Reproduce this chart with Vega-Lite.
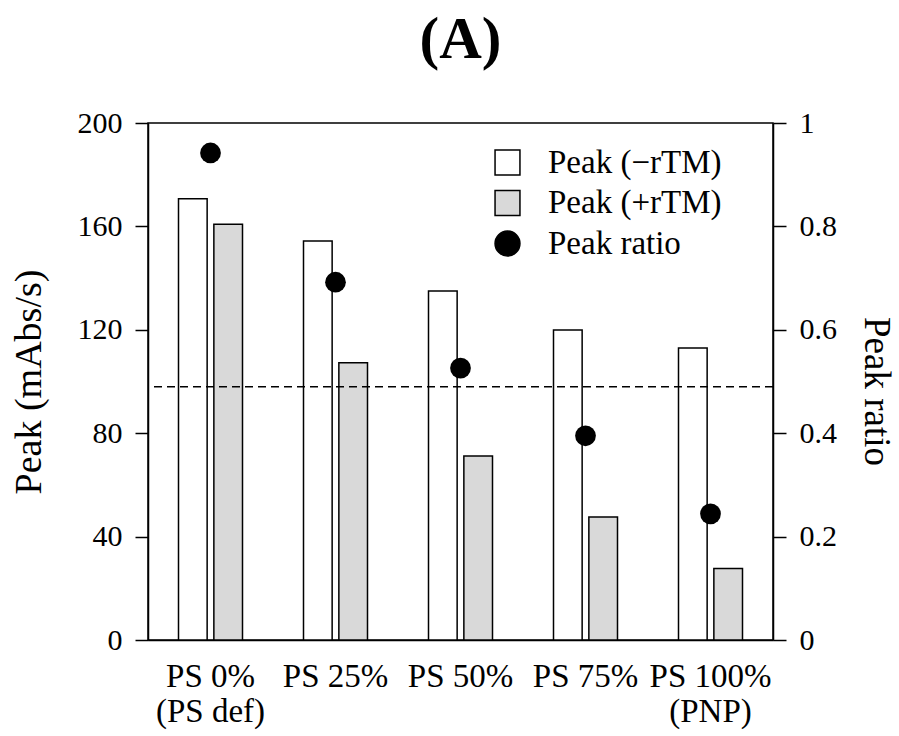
{
  "$schema": "https://vega.github.io/schema/vega-lite/v6.json",
  "autosize": {"type": "none"},
  "width": 625,
  "height": 517,
  "padding": {"left": 148, "top": 123, "right": 126, "bottom": 96},
  "background": "white",
  "config": {
    "font": "Liberation Serif",
    "view": {"stroke": "black", "strokeWidth": 1.5},
    "axis": {
      "labelFont": "Liberation Serif",
      "titleFont": "Liberation Serif",
      "labelColor": "black",
      "titleColor": "black",
      "domainColor": "black",
      "tickColor": "black",
      "domainWidth": 1.5,
      "tickWidth": 1.5,
      "grid": false,
      "titleFontWeight": "normal"
    },
    "legend": {"labelFont": "Liberation Serif", "labelColor": "black"}
  },
  "title": {
    "text": "(A)",
    "font": "Liberation Serif",
    "fontSize": 59,
    "fontWeight": "bold",
    "color": "black",
    "anchor": "middle",
    "frame": "group",
    "baseline": "alphabetic",
    "offset": -9
  },
  "datasets": {
    "bars": [
      {"group": "PS 0%|(PS def)", "series": "Peak (−rTM)", "peak": 170.7},
      {"group": "PS 0%|(PS def)", "series": "Peak (+rTM)", "peak": 160.8},
      {"group": "PS 25%", "series": "Peak (−rTM)", "peak": 154.4},
      {"group": "PS 25%", "series": "Peak (+rTM)", "peak": 107.3},
      {"group": "PS 50%", "series": "Peak (−rTM)", "peak": 135.0},
      {"group": "PS 50%", "series": "Peak (+rTM)", "peak": 71.2},
      {"group": "PS 75%", "series": "Peak (−rTM)", "peak": 119.9},
      {"group": "PS 75%", "series": "Peak (+rTM)", "peak": 47.6},
      {"group": "PS 100%|(PNP)", "series": "Peak (−rTM)", "peak": 113.0},
      {"group": "PS 100%|(PNP)", "series": "Peak (+rTM)", "peak": 27.7}
    ],
    "ratios": [
      {"group": "PS 0%|(PS def)", "series": "Peak ratio", "ratio": 0.942},
      {"group": "PS 25%", "series": "Peak ratio", "ratio": 0.692},
      {"group": "PS 50%", "series": "Peak ratio", "ratio": 0.526},
      {"group": "PS 75%", "series": "Peak ratio", "ratio": 0.395},
      {"group": "PS 100%|(PNP)", "series": "Peak ratio", "ratio": 0.244}
    ],
    "level": [{"ref": 98}]
  },
  "layer": [
    {
      "layer": [
        {
          "data": {"name": "bars"},
          "mark": {"type": "bar", "stroke": "black", "strokeWidth": 1.5, "opacity": 1},
          "encoding": {
            "x": {
              "field": "group",
              "type": "nominal",
              "sort": ["PS 0%|(PS def)", "PS 25%", "PS 50%", "PS 75%", "PS 100%|(PNP)"],
              "scale": {"paddingInner": 0.488, "paddingOuter": 0.244},
              "axis": {
                "title": null,
                "labelAngle": 0,
                "tickSize": 0,
                "labelFont": "Liberation Serif",
                "labelFontSize": 33,
                "labelLineHeight": 35,
                "labelPadding": 20,
                "labelBaseline": "top",
                "labelExpr": "split(datum.label, '|')",
                "labelLimit": 300,
                "domain": true
              }
            },
            "xOffset": {
              "field": "series",
              "type": "nominal",
              "sort": ["Peak (−rTM)", "Peak (+rTM)"],
              "scale": {"paddingInner": 0.19, "paddingOuter": 0}
            },
            "y": {
              "field": "peak",
              "type": "quantitative",
              "scale": {"domain": [0, 200], "nice": false},
              "axis": {
                "orient": "left",
                "title": "Peak (mAbs/s)",
                "values": [0, 40, 80, 120, 160, 200],
                "tickSize": 13,
                "labelPadding": 13,
                "labelFont": "Liberation Serif",
                "titleFont": "Liberation Serif",
                "labelFontSize": 30,
                "titleFontSize": 38,
                "titlePadding": 29
              }
            },
            "fill": {
              "field": "series",
              "type": "nominal",
              "scale": {
                "domain": ["Peak (−rTM)", "Peak (+rTM)", "Peak ratio"],
                "range": ["white", "#d9d9d9", "black"]
              },
              "legend": {
                "title": null,
                "orient": "none",
                "legendX": 343,
                "legendY": 23,
                "labelFont": "Liberation Serif",
                "labelFontSize": 33,
                "labelLimit": 400,
                "labelOffset": 24,
                "symbolSize": 620,
                "symbolStrokeColor": "black",
                "symbolStrokeWidth": 1.5,
                "symbolOpacity": 1,
                "rowPadding": 6.5,
                "encode": {
                  "symbols": {
                    "update": {
                      "shape": {"signal": "datum.value === 'Peak ratio' ? 'circle' : 'square'"}
                    }
                  }
                }
              }
            }
          }
        },
        {
          "data": {"name": "level"},
          "mark": {"type": "rule", "stroke": "black", "strokeWidth": 1.5, "strokeDash": [8, 5]},
          "encoding": {
            "y": {"field": "ref", "type": "quantitative"}
          }
        }
      ]
    },
    {
      "data": {"name": "ratios"},
      "mark": {"type": "point", "filled": true, "opacity": 1, "size": 430, "shape": "circle"},
      "encoding": {
        "x": {
          "field": "group",
          "type": "nominal",
          "sort": ["PS 0%|(PS def)", "PS 25%", "PS 50%", "PS 75%", "PS 100%|(PNP)"]
        },
        "y": {
          "field": "ratio",
          "type": "quantitative",
          "scale": {"domain": [0, 1], "nice": false},
          "axis": {
            "orient": "right",
            "title": "Peak ratio",
            "values": [0, 0.2, 0.4, 0.6, 0.8, 1],
            "format": "~g",
            "tickSize": 13,
            "labelPadding": 13,
            "labelFont": "Liberation Serif",
            "titleFont": "Liberation Serif",
            "labelFontSize": 30,
            "titleFontSize": 37,
            "titlePadding": 20,
            "titleY": 268
          }
        },
        "fill": {"field": "series", "type": "nominal"}
      }
    }
  ],
  "resolve": {"scale": {"y": "independent"}}
}
